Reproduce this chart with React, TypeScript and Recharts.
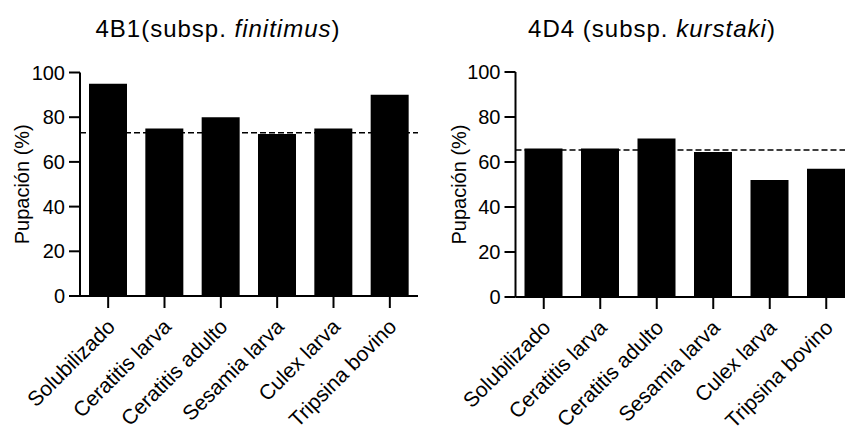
import React from 'react';
import { BarChart, Bar, XAxis, YAxis, ReferenceLine } from 'recharts';

const categories = [
  'Solubilizado',
  'Ceratitis larva',
  'Ceratitis adulto',
  'Sesamia larva',
  'Culex larva',
  'Tripsina bovino',
];
const finitimusValues = [95, 75, 80, 72.5, 75, 90];
const kurstakiValues = [66, 66, 70.5, 64.5, 52, 57];
const finitimusControl = 73;
const kurstakiControl = 65.3;
const yTicks = [0, 20, 40, 60, 80, 100];

const FONT = '"Liberation Sans", Arial, Helvetica, sans-serif';

const toRows = (values: number[]) =>
  categories.map((name, i) => ({ name, value: values[i] }));

function AngledTick({ x, y, payload }: any) {
  return (
    <g transform={`translate(${x + 8},${y + 18})`}>
      <text
        x={0}
        y={0}
        textAnchor="end"
        transform="rotate(-45)"
        fontSize={21}
        fill="#000"
        fontFamily={FONT}
      >
        {payload.value}
      </text>
    </g>
  );
}

function PupPanel({
  values,
  control,
  width,
  axisWidth,
  top,
  axisHeight,
  right,
  labelX,
}: {
  values: number[];
  control: number;
  width: number;
  axisWidth: number;
  top: number;
  axisHeight: number;
  right: number;
  labelX: number;
}) {
  const data = toRows(values);
  return (
    <BarChart
      width={width}
      height={426}
      data={data}
      margin={{ top, right, left: 0, bottom: 0 }}
      style={{ fontFamily: FONT }}
    >
      <XAxis
        dataKey="name"
        interval={0}
        height={axisHeight}
        tickSize={12}
        tickMargin={2}
        tick={<AngledTick />}
        axisLine={{ stroke: '#000', strokeWidth: 2 }}
        tickLine={{ stroke: '#000', strokeWidth: 2 }}
      />
      <YAxis
        width={axisWidth}
        domain={[0, 100]}
        ticks={yTicks}
        tickSize={11}
        tickMargin={4}
        tick={{ fontSize: 20, fill: '#000', fontFamily: FONT }}
        axisLine={{ stroke: '#000', strokeWidth: 2 }}
        tickLine={{ stroke: '#000', strokeWidth: 2 }}
        label={{
          content: (props: any) => {
            const vb = props.viewBox || {};
            const cy = vb.y + vb.height / 2;
            return (
              <text
                x={labelX}
                y={cy}
                textAnchor="middle"
                transform={`rotate(-90, ${labelX}, ${cy})`}
                fontSize={20}
                fill="#000"
                fontFamily={FONT}
              >
                Pupación (%)
              </text>
            );
          },
        }}
      />
      <Bar dataKey="value" fill="#000" barSize={38} isAnimationActive={false} />
      <ReferenceLine
        y={control}
        stroke="#000"
        strokeWidth={1.5}
        strokeDasharray="6 3"
      />
    </BarChart>
  );
}

const titleStyle: React.CSSProperties = {
  position: 'absolute',
  top: 17,
  width: 400,
  textAlign: 'center',
  fontFamily: FONT,
  fontSize: 24,
  lineHeight: '24px',
  letterSpacing: 1,
  color: '#000',
  whiteSpace: 'nowrap',
};

export default function App() {
  return (
    <div
      style={{
        position: 'fixed',
        left: 0,
        top: 0,
        width: 845,
        height: 426,
        overflow: 'hidden',
        background: '#fff',
      }}
    >
      <div style={{ ...titleStyle, left: 218 - 200 }}>
        4B1(subsp. <i>finitimus</i>)
      </div>
      <div style={{ ...titleStyle, left: 652 - 200 }}>
        4D4 (subsp. <i>kurstaki</i>)
      </div>
      <div style={{ position: 'absolute', left: 0, top: 0 }}>
        <PupPanel
          values={finitimusValues}
          control={finitimusControl}
          width={425}
          axisWidth={80}
          top={72.5}
          axisHeight={130}
          right={7}
          labelX={29}
        />
      </div>
      <div style={{ position: 'absolute', left: 420, top: 0 }}>
        <PupPanel
          values={kurstakiValues}
          control={kurstakiControl}
          width={440}
          axisWidth={95.5}
          top={72}
          axisHeight={129}
          right={5.5}
          labelX={46}
        />
      </div>
    </div>
  );
}
